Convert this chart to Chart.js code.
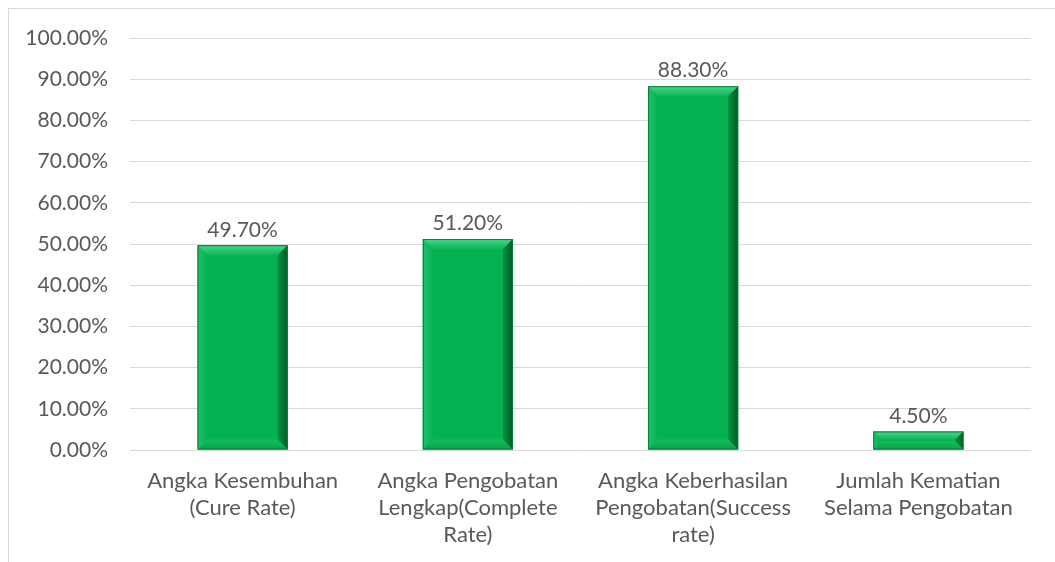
<!DOCTYPE html>
<html>
<head>
<meta charset="utf-8">
<script src="https://cdn.jsdelivr.net/npm/chart.js@4"></script>
<style>
  html, body { margin: 0; padding: 0; background: #fff; }
  #frame { position: absolute; left: 8px; top: 8px; right: 0; bottom: 0; border-left: 1px solid #d9d9d9; border-top: 1px solid #d9d9d9; }
  #wrap { position: absolute; left: 0; top: 0; width: 1055px; height: 562px; }
</style>
</head>
<body>
<div id="frame"></div>
<div id="wrap"><canvas id="myChart1"></canvas></div>
<script>
const categories = [
    ['Angka Kesembuhan', '(Cure Rate)'],
    ['Angka Pengobatan', 'Lengkap(Complete', 'Rate)'],
    ['Angka Keberhasilan', 'Pengobatan(Success', 'rate)'],
    ['Jumlah Kematian', 'Selama Pengobatan']
];
const rates = [49.7, 51.2, 88.3, 4.5];
const yTicks = [0, 10, 20, 30, 40, 50, 60, 70, 80, 90, 100];

const textColor = '#595959';
const fontFamily = 'Lato, "Open Sans", sans-serif';

// bevel look like the office chart
const bevelPlugin = {
    id: 'bevel',
    afterDatasetsDraw(chart) {
        const ctx = chart.ctx;
        const meta = chart.getDatasetMeta(0);
        meta.data.forEach((bar) => {
            const l = bar.x - bar.width / 2;
            const r = bar.x + bar.width / 2;
            const t = bar.y;
            const b = bar.base;
            const h = b - t;
            const d = Math.min(10, h / 2.2);

            function quad(pts, fill) {
                ctx.beginPath();
                ctx.moveTo(pts[0][0], pts[0][1]);
                for (let i = 1; i < pts.length; i++) ctx.lineTo(pts[i][0], pts[i][1]);
                ctx.closePath();
                ctx.fillStyle = fill;
                ctx.fill();
            }
            ctx.save();
            let g = ctx.createLinearGradient(0, t, 0, t + d);
            g.addColorStop(0, '#45d98a');
            g.addColorStop(1, '#0cb556');
            quad([[l, t], [r, t], [r - d, t + d], [l + d, t + d]], g);

            g = ctx.createLinearGradient(l, 0, l + d, 0);
            g.addColorStop(0, '#1cc467');
            g.addColorStop(1, '#07b152');
            quad([[l, t], [l + d, t + d], [l + d, b - d], [l, b]], g);

            g = ctx.createLinearGradient(r - d, 0, r, 0);
            g.addColorStop(0, '#00913f');
            g.addColorStop(1, '#005a24');
            quad([[r, t], [r, b], [r - d, b - d], [r - d, t + d]], g);

            g = ctx.createLinearGradient(0, b - d, 0, b);
            g.addColorStop(0, '#16bb5e');
            g.addColorStop(1, '#08a449');
            quad([[l, b], [l + d, b - d], [r - d, b - d], [r, b]], g);

            ctx.strokeStyle = '#0a7a3a';
            ctx.lineWidth = 1;
            ctx.strokeRect(l + 0.5, t + 0.5, r - l - 1, h - 1);
            ctx.restore();
        });
    },
    afterDraw(chart) {
        // labels on top of bars
        const ctx = chart.ctx;
        const meta = chart.getDatasetMeta(0);
        ctx.save();
        ctx.font = '21px ' + fontFamily;
        ctx.fillStyle = textColor;
        ctx.textAlign = 'center';
        ctx.textBaseline = 'bottom';
        meta.data.forEach((bar, i) => {
            ctx.fillText(rates[i].toFixed(2) + '%', bar.x, bar.y - 5);
        });
        ctx.restore();
    }
};

window.addEventListener('DOMContentLoaded', () => {
    const ctx = document.getElementById('myChart1').getContext('2d');
    const myChart = new Chart(ctx, {
        type: 'bar',
        data: {
            labels: categories,
            datasets: [{
                label: 'Rate',
                data: rates,
                backgroundColor: '#06b151',
                borderWidth: 0,
                categoryPercentage: 1,
                barPercentage: 0.4
            }]
        },
        options: {
            responsive: true,
            maintainAspectRatio: false,
            animation: false,
            layout: { padding: { top: 38, right: 24, left: 0, bottom: 0 } },
            plugins: {
                legend: { display: false },
                tooltip: { enabled: false }
            },
            scales: {
                y: {
                    min: 0,
                    max: 100,
                    afterFit: (scale) => { scale.width = 130; },
                    afterBuildTicks: (scale) => { scale.ticks = yTicks.map(v => ({ value: v })); },
                    border: { display: false },
                    grid: { color: '#d9d9d9', drawTicks: false },
                    ticks: {
                        padding: 22,
                        color: textColor,
                        font: { family: fontFamily, size: 21 },
                        callback: function(val) {
                            return val.toFixed(2) + '%';
                        }
                    }
                },
                x: {
                    afterFit: (scale) => { scale.height = 112; },
                    border: { display: false },
                    grid: { display: false },
                    ticks: {
                        padding: 9,
                        maxRotation: 0,
                        autoSkip: false,
                        color: textColor,
                        font: { family: fontFamily, size: 22, lineHeight: 1.24 }
                    }
                }
            }
        },
        plugins: [bevelPlugin]
    });
});
</script>
</body>
</html>
